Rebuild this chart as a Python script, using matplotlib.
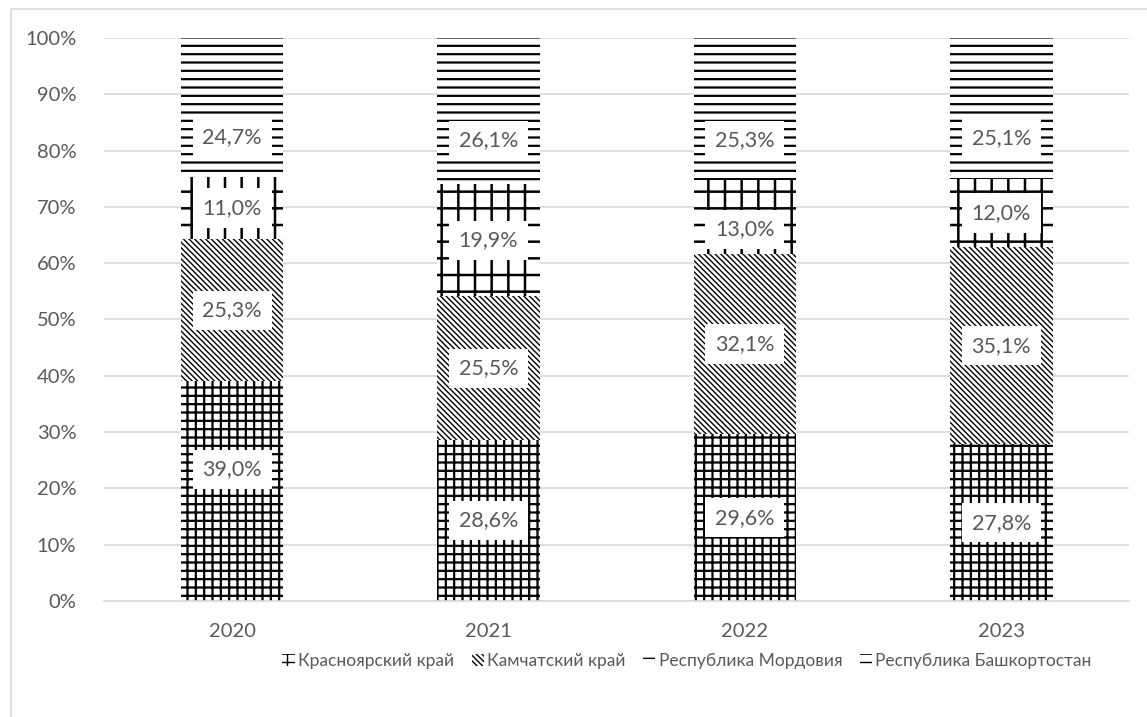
import numpy as np
import matplotlib.pyplot as plt
from matplotlib.patches import Rectangle

# данные
years = ['2020', '2021', '2022', '2023']
krasnoyarsk = [39.0, 28.6, 29.6, 27.8]
kamchatka = [25.3, 25.5, 32.1, 35.1]
mordovia = [11.0, 19.9, 13.0, 12.0]
bashkortostan = [24.7, 26.1, 25.3, 25.1]

# где стоит подпись внутри сегмента (доля высоты сегмента)
label_frac = [
    [0.6, 0.5, 0.5, 0.5],
    [0.5, 0.5, 0.5, 0.5],
    [0.5, 0.5, 0.33, 0.5],
    [0.29, 0.3, 0.28, 0.29],
]

# название, значения, штриховка, толщина штриховки
series = [
    ('Красноярский край', krasnoyarsk, '++', 1.6),
    ('Камчатский край', kamchatka, '\\' * 6, 1.0),
    ('Республика Мордовия', mordovia, '+', 1.8),
    ('Республика Башкортостан', bashkortostan, '--', 1.6),
]

plt.rcParams['font.family'] = ['Lato', 'DejaVu Sans']
plt.rcParams['hatch.color'] = 'black'
gray = '#595959'

fig = plt.figure(figsize=(11.47, 7.17), dpi=100)
ax = fig.add_axes([0.0907, 0.1618, 0.894, 0.7852])

x = np.arange(len(years))
bottom = np.zeros(len(years))
for (name, vals, hatch, hlw), fr in zip(series, label_frac):
    vals = np.array(vals)
    with plt.rc_context({'hatch.linewidth': hlw}):
        bars = ax.bar(x, vals, 0.4, bottom=bottom, color='white', edgecolor='black',
                      linewidth=0, hatch=hatch, label=name, zorder=2)
    for p in bars:
        if hasattr(p, 'set_hatch_linewidth'):
            p.set_hatch_linewidth(hlw)
    for xi, b, v, f in zip(x, bottom, vals, fr):
        ax.text(xi, b + v * f, f'{v:.1f}%'.replace('.', ','), ha='center', va='center',
                fontsize=15.5, color=gray, zorder=4,
                bbox=dict(facecolor='white', edgecolor='none', pad=7))
    bottom += vals

ax.set_xlim(-0.5, 3.5)
ax.set_ylim(0, 100)
ax.set_yticks(np.arange(0, 101, 10))
ax.set_yticklabels([f'{v}%' for v in range(0, 101, 10)])
ax.set_xticks(x)
ax.set_xticklabels(years)
ax.tick_params(length=0, labelsize=14.5, colors=gray, pad=20)
ax.tick_params(axis='x', pad=16)
ax.grid(axis='y', color='#d9d9d9', linewidth=1.2, zorder=0)
for s in ['top', 'right', 'left']:
    ax.spines[s].set_visible(False)
ax.spines['bottom'].set_color('#d9d9d9')
ax.spines['bottom'].set_linewidth(1.2)

leg = fig.legend(loc='center', bbox_to_anchor=(0.599, 0.078), ncol=4, frameon=False,
                 fontsize=12.5, handlelength=0.7, handleheight=0.7, handletextpad=0.2,
                 columnspacing=1.0, labelcolor=gray)

fig.patches.append(Rectangle((11 / 1147, -0.01), 1.02, 1 - 9 / 717 + 0.01,
                             transform=fig.transFigure, fill=False,
                             edgecolor='#d9d9d9', linewidth=1.2))

fig.savefig('out.png', dpi=100)
